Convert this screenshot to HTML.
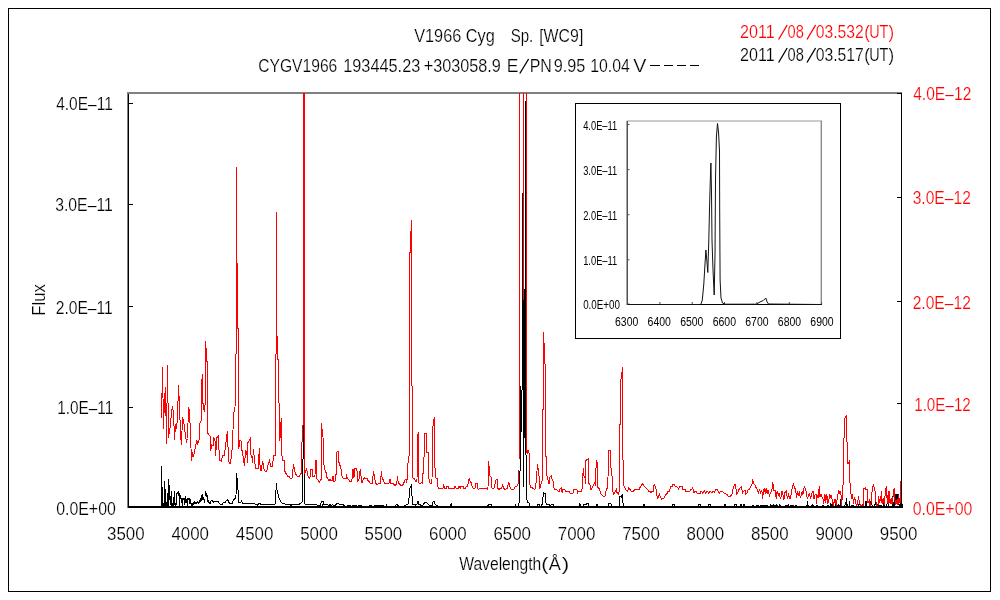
<!DOCTYPE html>
<html><head><meta charset="utf-8"><title>V1966 Cyg</title>
<style>
html,body{margin:0;padding:0;background:#fff;}
body{width:1000px;height:600px;overflow:hidden;font-family:"Liberation Sans",sans-serif;}
svg{display:block;font-family:"Liberation Sans",sans-serif;}
text{filter:url(#idf);font-family:"Liberation Sans",sans-serif;stroke:#fff;stroke-width:0.2px;paint-order:fill stroke;}
.ln{fill:none;stroke-width:1;shape-rendering:crispEdges;}
</style></head><body>
<svg width="1000" height="600" viewBox="0 0 1000 600">
<defs><filter id="idf" x="-5%" y="-20%" width="110%" height="140%" color-interpolation-filters="sRGB"><feOffset dx="0" dy="0"/></filter></defs>
<rect x="0" y="0" width="1000" height="600" fill="#fff"/>
<rect x="8.5" y="8.5" width="982" height="583" fill="none" stroke="#000" stroke-width="1" shape-rendering="crispEdges"/>

<text x="414.19" y="42" font-size="18" fill="#000" textLength="80.62" lengthAdjust="spacingAndGlyphs">V1966 Cyg</text>
<text x="510.69" y="42" font-size="18" fill="#000" textLength="22.62" lengthAdjust="spacingAndGlyphs">Sp.</text>
<text x="539.19" y="42" font-size="18" fill="#000" textLength="44.12" lengthAdjust="spacingAndGlyphs">[WC9]</text>
<text x="258.19" y="72" font-size="18" fill="#000" textLength="79.12" lengthAdjust="spacingAndGlyphs">CYGV1966</text><text x="343.19" y="72" font-size="18" fill="#000" textLength="77.12" lengthAdjust="spacingAndGlyphs">193445.23</text><text x="423.69" y="72" font-size="18" fill="#000" textLength="77.12" lengthAdjust="spacingAndGlyphs">+303058.9</text><text x="506.69" y="72" font-size="18" fill="#000" textLength="11.62" lengthAdjust="spacingAndGlyphs">E</text><line x1="519.8" y1="73.5" x2="528.6" y2="59" stroke="#000" stroke-width="1.35"/><text x="529.69" y="72" font-size="18" fill="#000" textLength="22.12" lengthAdjust="spacingAndGlyphs">PN</text><text x="553.69" y="72" font-size="18" fill="#000" textLength="31.62" lengthAdjust="spacingAndGlyphs">9.95</text><text x="590.19" y="72" font-size="18" fill="#000" textLength="39.62" lengthAdjust="spacingAndGlyphs">10.04</text><text x="633.19" y="72" font-size="18" fill="#000" textLength="13.12" lengthAdjust="spacingAndGlyphs">V</text>
<text x="739.99" y="38" font-size="18" fill="#f00" textLength="34.62" lengthAdjust="spacingAndGlyphs">2011</text>
<line x1="778.6" y1="39.5" x2="787.2" y2="25" stroke="#f00" stroke-width="1.35"/>
<text x="787.49" y="38" font-size="18" fill="#f00" textLength="16.32" lengthAdjust="spacingAndGlyphs">08</text>
<line x1="807" y1="39.5" x2="815.6" y2="25" stroke="#f00" stroke-width="1.35"/>
<text x="815.69" y="38" font-size="18" fill="#f00" textLength="48.12" lengthAdjust="spacingAndGlyphs">03.532</text>
<text x="864.19" y="38" font-size="18" fill="#f00" textLength="5.62" lengthAdjust="spacingAndGlyphs">(</text>
<text x="869.19" y="38" font-size="18" fill="#f00" textLength="19.22" lengthAdjust="spacingAndGlyphs">UT</text>
<text x="888.49" y="38" font-size="18" fill="#f00" textLength="5.62" lengthAdjust="spacingAndGlyphs">)</text>
<text x="739.99" y="61" font-size="18" fill="#000" textLength="34.62" lengthAdjust="spacingAndGlyphs">2011</text>
<line x1="778.6" y1="62.5" x2="787.2" y2="48" stroke="#000" stroke-width="1.35"/>
<text x="787.49" y="61" font-size="18" fill="#000" textLength="16.32" lengthAdjust="spacingAndGlyphs">08</text>
<line x1="807" y1="62.5" x2="815.6" y2="48" stroke="#000" stroke-width="1.35"/>
<text x="815.69" y="61" font-size="18" fill="#000" textLength="48.12" lengthAdjust="spacingAndGlyphs">03.517</text>
<text x="864.19" y="61" font-size="18" fill="#000" textLength="5.62" lengthAdjust="spacingAndGlyphs">(</text>
<text x="869.19" y="61" font-size="18" fill="#000" textLength="19.22" lengthAdjust="spacingAndGlyphs">UT</text>
<text x="888.49" y="61" font-size="18" fill="#000" textLength="5.62" lengthAdjust="spacingAndGlyphs">)</text>
<rect x="650" y="65" width="10" height="1" fill="#000" shape-rendering="crispEdges"/>
<rect x="664" y="65" width="9" height="1" fill="#000" shape-rendering="crispEdges"/>
<rect x="677" y="65" width="9" height="1" fill="#000" shape-rendering="crispEdges"/>
<rect x="690" y="65" width="9" height="1" fill="#000" shape-rendering="crispEdges"/>
<rect x="127" y="92" width="775" height="2" fill="#808080" shape-rendering="crispEdges"/>
<rect x="127" y="92" width="1" height="416" fill="#808080" shape-rendering="crispEdges"/>
<rect x="128" y="94" width="1" height="414" fill="#000" shape-rendering="crispEdges"/>
<rect x="901" y="94" width="1" height="414" fill="#000" shape-rendering="crispEdges"/>
<rect x="128" y="506" width="774" height="2" fill="#000" shape-rendering="crispEdges"/>
<rect x="128" y="103" width="5" height="1" fill="#000" shape-rendering="crispEdges"/>
<text x="56.19" y="110" font-size="18" fill="#000" textLength="56.62" lengthAdjust="spacingAndGlyphs">4.0E&#8211;11</text>
<rect x="128" y="204" width="5" height="1" fill="#000" shape-rendering="crispEdges"/>
<text x="55.19" y="211" font-size="18" fill="#000" textLength="57.62" lengthAdjust="spacingAndGlyphs">3.0E&#8211;11</text>
<rect x="128" y="306" width="5" height="1" fill="#000" shape-rendering="crispEdges"/>
<text x="55.69" y="314" font-size="18" fill="#000" textLength="57.12" lengthAdjust="spacingAndGlyphs">2.0E&#8211;11</text>
<rect x="128" y="407" width="5" height="1" fill="#000" shape-rendering="crispEdges"/>
<text x="57.19" y="414" font-size="18" fill="#000" textLength="56.12" lengthAdjust="spacingAndGlyphs">1.0E&#8211;11</text>
<rect x="128" y="507" width="5" height="1" fill="#000" shape-rendering="crispEdges"/>
<text x="56.19" y="515" font-size="18" fill="#000" textLength="59.62" lengthAdjust="spacingAndGlyphs">0.0E+00</text>
<rect x="897" y="93" width="5" height="1" fill="#000" shape-rendering="crispEdges"/>
<text x="913.19" y="100" font-size="18" fill="#f00" textLength="58.12" lengthAdjust="spacingAndGlyphs">4.0E&#8211;12</text>
<rect x="897" y="197" width="5" height="1" fill="#000" shape-rendering="crispEdges"/>
<text x="912.69" y="204" font-size="18" fill="#f00" textLength="58.12" lengthAdjust="spacingAndGlyphs">3.0E&#8211;12</text>
<rect x="897" y="301" width="5" height="1" fill="#000" shape-rendering="crispEdges"/>
<text x="912.69" y="309" font-size="18" fill="#f00" textLength="58.12" lengthAdjust="spacingAndGlyphs">2.0E&#8211;12</text>
<rect x="897" y="403" width="5" height="1" fill="#000" shape-rendering="crispEdges"/>
<text x="914.19" y="411" font-size="18" fill="#f00" textLength="56.62" lengthAdjust="spacingAndGlyphs">1.0E&#8211;12</text>
<rect x="897" y="507" width="5" height="1" fill="#000" shape-rendering="crispEdges"/>
<text x="912.69" y="515" font-size="18" fill="#f00" textLength="59.62" lengthAdjust="spacingAndGlyphs">0.0E+00</text>
<rect x="128" y="504" width="1" height="4" fill="#000" shape-rendering="crispEdges"/>
<text x="106.99" y="540" font-size="18" fill="#000" textLength="37.62" lengthAdjust="spacingAndGlyphs">3500</text>
<rect x="192" y="504" width="1" height="4" fill="#000" shape-rendering="crispEdges"/>
<text x="171.39" y="540" font-size="18" fill="#000" textLength="37.62" lengthAdjust="spacingAndGlyphs">4000</text>
<rect x="257" y="504" width="1" height="4" fill="#000" shape-rendering="crispEdges"/>
<text x="235.79" y="540" font-size="18" fill="#000" textLength="37.62" lengthAdjust="spacingAndGlyphs">4500</text>
<rect x="322" y="504" width="1" height="4" fill="#000" shape-rendering="crispEdges"/>
<text x="300.19" y="540" font-size="18" fill="#000" textLength="37.62" lengthAdjust="spacingAndGlyphs">5000</text>
<rect x="386" y="504" width="1" height="4" fill="#000" shape-rendering="crispEdges"/>
<text x="364.59" y="540" font-size="18" fill="#000" textLength="37.62" lengthAdjust="spacingAndGlyphs">5500</text>
<rect x="450" y="504" width="1" height="4" fill="#000" shape-rendering="crispEdges"/>
<text x="428.99" y="540" font-size="18" fill="#000" textLength="37.62" lengthAdjust="spacingAndGlyphs">6000</text>
<rect x="515" y="504" width="1" height="4" fill="#000" shape-rendering="crispEdges"/>
<text x="493.39" y="540" font-size="18" fill="#000" textLength="37.62" lengthAdjust="spacingAndGlyphs">6500</text>
<rect x="580" y="504" width="1" height="4" fill="#000" shape-rendering="crispEdges"/>
<text x="557.79" y="540" font-size="18" fill="#000" textLength="37.62" lengthAdjust="spacingAndGlyphs">7000</text>
<rect x="644" y="504" width="1" height="4" fill="#000" shape-rendering="crispEdges"/>
<text x="622.19" y="540" font-size="18" fill="#000" textLength="37.62" lengthAdjust="spacingAndGlyphs">7500</text>
<rect x="708" y="504" width="1" height="4" fill="#000" shape-rendering="crispEdges"/>
<text x="686.59" y="540" font-size="18" fill="#000" textLength="37.62" lengthAdjust="spacingAndGlyphs">8000</text>
<rect x="773" y="504" width="1" height="4" fill="#000" shape-rendering="crispEdges"/>
<text x="750.99" y="540" font-size="18" fill="#000" textLength="37.62" lengthAdjust="spacingAndGlyphs">8500</text>
<rect x="838" y="504" width="1" height="4" fill="#000" shape-rendering="crispEdges"/>
<text x="815.39" y="540" font-size="18" fill="#000" textLength="37.62" lengthAdjust="spacingAndGlyphs">9000</text>
<rect x="902" y="504" width="1" height="4" fill="#000" shape-rendering="crispEdges"/>
<text x="879.79" y="540" font-size="18" fill="#000" textLength="37.62" lengthAdjust="spacingAndGlyphs">9500</text>
<g transform="translate(45,315) rotate(-90)"><text x="-0.81" y="0" font-size="18" fill="#000" textLength="31.62" lengthAdjust="spacingAndGlyphs">Flux</text></g>
<text x="459.19" y="570" font-size="18" fill="#000" textLength="82.12" lengthAdjust="spacingAndGlyphs">Wavelength</text>
<text x="541.19" y="570" font-size="18" fill="#000" textLength="7.12" lengthAdjust="spacingAndGlyphs">(</text>
<text x="548.69" y="570" font-size="18" fill="#000" textLength="12.12" lengthAdjust="spacingAndGlyphs">&#197;</text>
<text x="561.69" y="570" font-size="18" fill="#000" textLength="7.62" lengthAdjust="spacingAndGlyphs">)</text>
<g clip-path="url(#pc)"><defs><clipPath id="pc"><rect x="128" y="93" width="775" height="415"/></clipPath></defs><polyline class="ln" stroke="#000" points="210.5,502.5 211.2,500 212.5,501 213.7,502.5 215,501 217.5,501 218.7,502.5 220,504 221.9,505 223,503 225,502.5 226.2,501 227.5,499.4 228.7,502 230,503.7 231.9,503.7 233,501 234,499.4 235,498.7 236,495 236.6,473 237.5,483.7 238,490 239,502.5 240.6,503 241.5,501 242.5,503 245,504 247,503.7 253.7,503.7 255,504 258,504.4 258.7,503 260.6,503 261,504.4 275,504.4 275.6,497.5 276.4,483 277,490 278,493.7 278.7,497.5 280,500 281.2,502.5 283.7,503.7 287.5,504.4 290.5,504.4 291,506 292,504.4 297,505 298,504.4 300.6,503.7 302,502 302.7,497.5 303.3,425 304.2,425 304.7,503.7 306,504.4 316,504.4 317.5,505.6 320.6,505 321.5,501 323.5,501 323.7,504.4 327.5,504.7 328.7,505.6 330,504.4 331.2,505.6 332.5,504.4 333.7,505.6 335.6,505 336.9,503.7 338.7,503.7 340,504.4 343,504.4 344,505.6 345.0,506 347.0,506 349.5,505.4 350.7,506 351.9,506 354.4,505.4 356.9,506 358.4,506 359.9,505.4 361.9,506 364.4,506 365.6,506 368.1,506 369.6,506 370.8,505.4 372.3,506 373.8,506 375.8,505.4 377.3,506 378.8,505.4 380.8,506 382.8,505.4 384.3,506 386.3,506 388.3,506 389.5,506 390.7,506 392.7,506 395.2,506 396.7,504.6 399.2,506 400.4,506 401.6,506 404.1,506 406.9,504.4 408,504.4 408.7,502.5 409.7,488.7 411.2,486 411.9,496 412.7,497 413,505 414.4,504.4 415.6,505 417.2,503.7 418,501 419,504.4 420.6,505 423,505 424.4,503 426.2,502 427.7,503.7 428.7,504.4 429.4,505.6 432,505.6 432.5,503 434,501 435,503.7 436.2,505.6 437.5,506 451,506 451.5,504.4 452,506 487.8,506 488.5,504.4 491.2,504.4 491.6,506 515,506 515.4,504.4 515.8,506 518.8,506 519.2,500 519.6,485 520.02,470 520.5,386.5 521.0,410 521.3,432 522.01,400 522.3,193.5 523.0,274 523.6,487 524.0,440 525.0,300 525.3,101.5 525.99,453 526.5,497 527.5,502 529,503 529.8,506 537,506 537.5,504.4 539.5,504.4 540,506 541.8,506 542.5,501 543.5,493 545.2,493.7 545.6,502.5 547,504.4 549.4,504.4 550,505.6 551.8,504.4 553,504.4 553.7,506 579,506 579.5,504.4 580,506 583,506 583.5,504.4 586,504.4 587,503 588.5,503 589,506 596.5,506 597,503.7 597.5,506 608,506 608.5,503.7 611,503.7 611.5,506 619,506 619.5,503.7 620,496 621.2,497 622.2,494.4 622.7,503 623.5,503.7 623.8,506 625.0,506 626.0,506 627.0,506 628.0,506 629.0,506 630.0,506 631.0,506 632.0,506 633.0,506 634.0,506 635.0,506 636.0,506 637.0,506 638.0,506 639.0,506 640.0,506 641.0,506 642.0,506 643.0,506 644.0,504.4 645.0,506 646.0,506 647.0,506 648.0,506 649.0,506 650.0,506 651.0,506 652.0,506 653.0,506 654.0,506 655.0,506 656.0,506 657.0,506 658.0,506 659.0,506 660.0,506 661.0,506 662.0,506 663.0,506 664.0,506 665.0,506 666.0,506 667.0,506 668.0,506 669.0,506 670.0,506 671.0,506 672.0,506 673.0,504.4 674.0,504.4 675.0,506 676.0,506 677.0,506 678.0,506 679.0,506 680.0,506 681.0,506 682.0,506 683.0,506 684.0,506 685.0,506 686.0,506 687.0,506 688.0,506 689.0,506 690.0,506 691.0,506 692.0,506 693.0,506 694.0,506 695.0,506 696.0,506 697.0,506 698.0,506 699.0,504.4 700.0,504.4 701.0,506 702.0,506 703.0,506 704.0,506 705.0,506 706.0,506 707.0,506 708.0,506 709.0,504.4 710.0,504.4 711.0,506 712.0,506 713.0,506 714.0,506 715.0,506 716.0,506 717.0,506 718.0,506 719.0,506 720.0,506 721.0,506 722.0,506 723.0,506 724.0,506 725.0,504.4 726.0,506 727.0,506 728.0,506 729.0,506 730.0,506 731.0,506 732.0,506 733.0,506 734.0,506 735.0,504.4 736.0,504.4 737.0,506 738.0,506 739.0,506 740.0,506 741.0,504.4 742.0,506 743.0,506 744.0,504.4 745.0,506 746.0,506 747.0,506 748.0,506 749.0,506 750.0,506 751.0,506 752.0,506 752.7,505.5 753.7,506 754.7,506 755.7,506 756.7,505.7 757.4,505.4 758.4,506 759.1,506 760.1,506 760.8,505.7 761.8,505.0 762.8,505.5 763.8,505.5 764.5,505.9 765.2,506 766.0,505.5 767.0,505.5 767.8,506 768.8,506 769.8,506 770.6,504.9 771.4,505.2 772.1,505.6 773.1,505.3 774.1,506 775.1,505.3 775.9,506 776.7,504.7 777.4,506 778.1,506 778.8,506 779.6,504.8 780.3,506 781.0,506 782.0,506 782.8,506 783.5,506 784.2,506 785.2,506 785.9,505.6 786.7,506 787.4,505.5 788.2,504.7 789.0,506 790.0,506 791.0,505.8 792.0,506 793.0,505.6 793.8,506 794.6,506 795.6,506 796.4,505.5 797.2,506 798.2,506 799.2,506 800.0,506 800.8,506 801.6,506.0 802.3,506.0 803.1,506 803.9,506 804.9,506 805.7,506 806.5,505.5 807.3,506 807.5,501 808.0,504.8 808.7,506 809.4,506 810.2,506 810.9,506 811.9,505.8 812.7,504.8 813.4,506 814.1,506 815.1,506 816.1,506 816.8,505.9 817.5,506 818.5,506 819.3,506 820.3,506 821.3,506 822.0,506 823.0,505.4 823.8,506 824.6,506 825.4,506 826.2,506 826.9,506 827.9,505.0 828.9,506 829.9,506 830.9,503.8 831.9,506 832.6,504.0 833.4,506 834.1,506 835.1,506 835.8,503.8 836.8,506 837.6,505.6 838.4,506 839.1,506 839.9,506 840.6,498.7 840.9,506 841.6,506 842.6,506 843.3,506 844.0,506 844.7,506 845.5,503.7 846.2,506 846.4,498 847.2,505.9 848.0,506 849.0,506 849.5,501 849.8,506 850.6,506.0 851.3,505.9 852.0,506 852.7,505.7 853.7,506 854.4,506 855.2,506 856.0,506 856.8,506 857.6,506 858.3,506 859.3,503.2 860.3,506 861.1,506 862.1,504.6 862.8,506 863.6,506 864.6,506 865.6,506 866,501 866.6,506 867.3,506 868.3,506 869.3,506 870,502 870.1,506 870.8,501.9 871.6,503.5 872.4,506 873.4,506 874.4,506 875.4,502.8 876.4,506 877.4,506 878.4,503.6 879.1,505.8 879.8,506 880.8,505.1 881.5,506 882.2,506 882.9,506 883.9,502.8 884.6,506 885.6,506 886.6,506 887.6,500.5 888.3,506 889.3,506 890.0,506 890.7,506 891.5,506 892.3,506 892.5,496 893.3,506 894.1,506 894.8,506 895,494 895.5,503.2 896.5,503.1 897,494 897.5,501.2 898,494 898.5,504.9 899.3,504.9 900.0,506 900.5,496 900.8,502.1"/><path fill="#000" shape-rendering="crispEdges" d="M161 466h1v41h-1zM162 487h1v20h-1zM163 503h1v4h-1zM164 481h1v26h-1zM165 489h1v17h-1zM166 502h1v5h-1zM167 493h1v14h-1zM168 479h1v28h-1zM169 485h1v15h-1zM170 496h1v9h-1zM171 491h1v16h-1zM172 503h1v4h-1zM173 497h1v9h-1zM174 491h1v14h-1zM175 503h1v3h-1zM176 493h1v12h-1zM177 492h1v2h-1zM178 491h1v5h-1zM179 493h1v13h-1zM180 495h1v4h-1zM181 498h1v5h-1zM182 498h1v8h-1zM183 498h1v2h-1zM184 498h1v7h-1zM185 496h1v7h-1zM186 499h1v4h-1zM187 498h1v8h-1zM188 498h1v2h-1zM189 498h1v6h-1zM190 499h1v5h-1zM191 503h1v4h-1zM192 503h1v4h-1zM193 502h1v3h-1zM194 501h1v3h-1zM195 502h1v2h-1zM196 502h1v2h-1zM197 501h1v2h-1zM198 502h1v2h-1zM199 500h1v3h-1zM200 498h1v4h-1zM201 495h1v6h-1zM202 494h1v6h-1zM203 497h1v3h-1zM204 499h1v4h-1zM205 491h1v5h-1zM206 493h1v4h-1zM207 495h1v7h-1zM208 500h1v3h-1zM209 502h1v2h-1zM210 501h1v3h-1z"/><polyline class="ln" stroke="#f00" points="161.5,418.5 162.0,393.5 162.5,367.5 163.5,428.5 164.5,398.5 165.5,387.5 166.5,443.5 167.5,365.5 168.5,437.5 169.5,430.5 170.5,425.5 171.5,410.5 172.5,407.5 173.5,412.5 174.5,439.5 175.5,424.5 176.5,428.5 177.5,418.5 178.5,385.5 179.5,405.5 180.5,434.5 181.5,444.5 182.5,417.5 183.5,421.5 184.5,426.5 185.5,436.5 186.5,441.5 187.5,438.5 188.5,407.5 189.5,410.5 190.5,435.5 191.5,461.0 192.5,452.5 193.7,456 194.7,451 196.9,440 197.5,445 199.4,438.7 199.7,423.7 201.2,421 201.5,384.5 202.5,374.5 203.1,408.7 204.4,411 205.02,405 205.5,341.5 206.01,348.5 207.01,361.5 207.5,432.5 208.7,435 210,436 210.6,451 211.9,445 213,446 213.7,437.5 215,441 215.6,456 216.9,437.5 218.5,436 219.4,460.6 221.2,461 222.5,456 224.4,455 225.6,445 226.2,440 227.5,431 227.9,441 228.3,461 230,464 231.5,456 232.5,445 233.5,415 235,407.5 236.01,359.5 236.5,167.5 237.01,263.5 238.01,328.5 238.8,448.7 240,440 241,440.6 241.9,450 242.5,452.5 244.4,466 245.6,451 246.9,452.5 247.5,463 248,442.5 250.6,438 251,455 252,457.5 252.5,462.5 253.5,448.7 254.4,458.7 255.6,468.7 258,469 259.4,448 260,465 261,471 262.7,461 263.7,468.7 265,471 266.9,471 268,465 269.4,460.6 270.6,466 272.5,466 273.5,456 275.02,455.6 276.01,357.5 276.5,212.5 277.01,336.5 278.01,359.5 279.4,420 279.7,441 280.6,432.5 281.2,418 281.7,455 283,460.5 284.4,461 285,471.5 286.2,473.7 287.5,476 289.4,477 290.6,478.7 292.2,478 292.5,473.7 293.5,463.7 294.4,470 295.6,473.7 296.9,476 299.4,476 300.6,473.7 301.5,473.7 301.8,442 302.9,441 303.2,401 303.5,60 304.5,60 304.9,473.7 306.2,469 307,471 308,476 309.4,478 310,477 310.4,469 312.5,469 312.7,476 315,476 315.2,460 316.6,461 316.9,478.7 318,480 319.4,482 320.6,480.6 321.3,478.7 321.5,423 322,429 323,437 323.7,465 324.7,466 325.2,473 326.5,472.5 327,477.5 328,478.7 329,481 330,479 331.2,481 332.2,480.6 332.7,476 333.5,476 333.7,481 335,481 335.6,475 336.2,474.4 336.5,452.5 338.7,451 339,462.5 340.2,466 341.2,470 341.9,476 343,478 344.4,478.5 346,478.7 346.5,474.4 347.5,478.7 348.7,479.4 349.7,481 351.9,481 352.5,469.4 353.5,470 354,477.5 355,468.5 356.9,468.5 357.5,481 358.7,480.6 359.4,477.5 360.2,469.4 361,476 361.9,483 363,480 364.4,478 365.6,478.7 366.9,478 368,480.6 369.4,482 370.6,483.7 372.5,483.7 372.9,477.5 373.5,471 374.4,477 375.6,483.7 377.5,484.4 379.4,483 380.6,483 381,476 381.5,471 382.2,478.7 383.5,480 384.4,483.7 386.2,483 388,483.7 389,483.7 389.4,480 390.2,479.4 390.6,483.7 393.7,484 395.2,485.6 396.5,483.7 397,481 397.5,476 398,481 399.4,484.4 400.6,485 401.2,486 402.5,485 403.7,483.7 404.7,480 406.2,479.4 406.9,483 407.5,468.7 408.5,457 409.02,456 409.98,252.5 410.02,252.5 410.98,231.5 411.02,231.5 411.3,220.5 411.98,380 412.5,477.5 414.4,478.7 415.6,481 417,481 417.3,435 418.5,433 418.8,483 420.6,483.7 421.5,482.5 422.7,483.7 423.5,458 424.3,456 424.6,433 426.2,433 426.9,452.5 428.5,453 428.7,477.5 430,483 431.2,483 432,481 432.3,431 433.5,422 434.4,417 434.7,468 435.6,468.7 436,478 437.2,478.7 437.7,486 438.5,488 443,488 443.5,484.4 444.4,488 446.2,488 446.5,486 448,486 448.7,488 454.4,488 455,486 456,488 458.7,488 459,486 460.2,488 461.2,486 463,486 463.7,488 465.8,488 466.2,486 467.7,486 468.5,481 469.6,478 470.2,482.5 471.5,483 472.2,487.5 473,488 475,488 475.4,483 477.2,483 477.5,488 478.5,489.4 480,488.5 486.2,488.5 487.2,489.4 488,487.5 488.4,461 489.4,468.7 490,476 491.2,477.5 491.6,488 493.7,488.5 494.7,486 495.4,480.6 497.2,479.4 497.7,488 498.7,489.4 500.6,488.5 501.9,488 502.5,484.4 503.5,488 505,489.4 507.5,488 508.5,483 509.4,483.7 510,487 511.2,489.4 513.7,489.4 515,487 516.9,486 518,483.7 519,482.5 519.5,60 523.2,60 523.5,300 523.8,60 526.2,60 526.5,452.5 527.2,453 528,450 529.4,453.7 529.7,483.7 530.6,487 532.5,488 534.4,489.4 535.6,488 536.5,477.5 537.5,463.7 538.5,472.5 539,476 539.6,488 540.6,487.5 541.2,483 542.2,481 542.98,422 543.3,332.5 544.01,343.5 545.01,363.7 545.7,456 546.5,457 546.9,476 547.7,477.5 548.5,483 549.3,483 549.7,477 551.2,476 552.2,480 553,481 554,488 555,489.4 556.9,490 558,491 559.3,491 560,488.7 561.5,488 562.2,493 563,489.4 564.3,489.4 565.6,491 568.7,491 570,493 573,493 574,489.4 576.9,489.4 577.5,493 578.7,491 581.9,491 582.5,480 583.4,468 584,476 585,477.5 585.6,483.7 586,460.6 587.2,459.4 588.5,458.5 588.7,483 590,485 591,489.4 592.2,488 593.7,484.4 594.7,483 595.6,485.6 596.2,460 597.2,462.5 597.7,487.5 599.4,488.7 600.6,493.7 601.9,495 603.5,496.5 605,496 606,491 607.2,488 608,477.5 608.5,450 610.6,450 611,468 611.9,469.4 612.2,488 613.5,494.4 614.4,493 615.6,491 616.5,489.4 617.2,493.7 618.7,494.4 619.4,490 620.0,425 620.99,379.5 621.99,372.5 622.3,367.5 622.8,460 623.5,460.6 623.7,485.6 625,488 626.2,490 627.5,491 628.7,488 630,489.4 631.2,491 633.7,491 635,489.4 636.2,489.4 639.4,489.4 640.2,487 641.2,485.6 642.5,483.7 644,486 645.6,487.5 647.5,489.4 648.5,491 650,491 651,493 651.9,491 653.5,491 653.7,487 654.4,483.7 655.6,488 656.5,490 657.2,498.7 658,497.5 659.4,494.4 660.6,497 661.5,499.4 663,498.7 664.4,497.5 665.6,494.4 667.2,493.7 667.7,491 669.4,491 670,489.4 670.6,487 672.5,486 673,484.4 674.4,484.4 675,486 676.9,487 678,488 678.7,489.4 679.4,487 682.2,486.5 682.7,489.4 685,489.4 685.6,491 690,491 690.2,489.4 691.9,489.4 692.5,488 693.5,489.4 694,493 695,491 696.2,491 696.9,493 700,493.5 701.2,491 702.5,493 704.4,491 705.6,493 706.9,491 708.7,493 710,491 711.9,493 713,491 714.4,492 715.6,490 716.9,489.4 718,491 719.4,493 720.6,491 722.5,491 723.7,493 725.6,493.7 727.5,495 728,496 730.6,496 731.9,494.4 732.7,491 733.5,487 734.4,485 735.4,484.4 736,489.4 736.5,494.4 737.5,493 738.7,490 740,488 741.2,487 742.2,491 742.7,493 743.7,491 745,490 745.6,494.4 746.9,493 748,490 749.4,489.4 750.6,487 751.9,484.4 752.7,479.4 753.7,483.7 755,484.8 756.2,488 757.5,489.4 758.5,493.7 759.4,488.7 760.6,493 761.9,490 762.5,498.7 763.5,491 764.4,488 765.2,493.7 766.2,488 767.2,493.7 768,490 769.4,496 770.6,492.5 771.9,490 772.5,483 773.5,484.4 774,491 775,490 776.2,498.7 777.2,491 778.5,495 779.4,493.7 780.6,499.4 781.9,491 783,495 784,499.4 785,492.5 786.2,491 787.5,498.7 788.7,494.4 790,499.4 791.2,493.7 792.2,487.5 793.5,483 794.4,487.5 795.6,489.4 796.5,498 797.5,492.5 798.7,495.6 799.4,491 800.2,497.5 801.5,495 802.2,491 803,494.4 804.4,486 805.6,489.4 806.5,493.7 807.5,499.4 808.5,495 809.4,493.7 810.6,498.7 811.9,493 813,491 814,499.4 815,495 816,493.7 816.4,504.4 817.2,495 818,498 819.4,486 820,497 821,493.7 821.9,497 823,498.7 823.7,503.7 825,494.4 825.6,502.5 826.9,494.4 827.5,503.7 828.7,501 829.7,494.4 830.6,497 831.5,495.6 832.7,502.5 833.5,506 834.4,500 835.6,499.4 836.2,506 837.2,498 838.5,491 839.4,492.5 840,491 841,495 841.5,506 842.5,495 843.3,479 844.3,421 845.2,417.4 846.4,415 847,442 848,464 849.4,461.5 849.8,483 850.6,483.7 851.2,498.7 852.5,494.4 853.5,503.7 854.4,498 855.6,501 856.2,506 857.5,503.7 858.5,496 859.4,502.5 860.6,505 862,506 863.5,505 864,488.7 865.2,488 866,490 867.2,489.4 868,502.5 869.4,500 870,506 871.2,502 872.2,489.4 873.5,484.4 874.7,490 875.6,493 876.2,506 878,505 878.7,496 879.4,503 880,501 880.5,496 881.2,503 881.6,491 882.3,504 883.5,498 884.2,505 885.5,491 886.5,486 887.2,503 887.8,495 888.4,504 889,491 889.7,503 890.4,499 891,504 891.7,498 892.4,504 893.5,491 894.5,488 895,500 895.6,505 896.3,503 897,500 897.7,505 898.2,495 898.9,504 899.6,498 900.2,503 900.5,481 901,491"/></g>
<rect x="575.5" y="103.5" width="265" height="235" fill="#fff" stroke="#000" stroke-width="1" shape-rendering="crispEdges"/>
<rect x="627" y="120.2" width="195" height="1.6" fill="#c0c0c0"/>
<rect x="820.6" y="121" width="1.4" height="184" fill="#8a8a8a"/>
<rect x="626.5" y="121" width="1.5" height="184" fill="#505050"/>
<rect x="627" y="304" width="195" height="1" fill="#000" shape-rendering="crispEdges"/>
<rect x="627" y="124.0" width="2.5" height="1" fill="#505050"/>
<text x="583.16" y="129.8" font-size="12" fill="#000" textLength="34.08" lengthAdjust="spacingAndGlyphs" style="stroke:none">4.0E&#8211;11</text>
<rect x="627" y="169.1" width="2.5" height="1" fill="#505050"/>
<text x="583.16" y="174.6" font-size="12" fill="#000" textLength="34.08" lengthAdjust="spacingAndGlyphs" style="stroke:none">3.0E&#8211;11</text>
<rect x="627" y="214.2" width="2.5" height="1" fill="#505050"/>
<text x="583.16" y="219.7" font-size="12" fill="#000" textLength="34.08" lengthAdjust="spacingAndGlyphs" style="stroke:none">2.0E&#8211;11</text>
<rect x="627" y="259.3" width="2.5" height="1" fill="#505050"/>
<text x="583.16" y="264.8" font-size="12" fill="#000" textLength="34.08" lengthAdjust="spacingAndGlyphs" style="stroke:none">1.0E&#8211;11</text>
<rect x="627" y="303.5" width="2.5" height="1" fill="#505050"/>
<text x="583.16" y="309.4" font-size="12" fill="#000" textLength="36.88" lengthAdjust="spacingAndGlyphs" style="stroke:none">0.0E+00</text>
<rect x="627.0" y="302" width="1" height="2.5" fill="#505050"/>
<text x="615.06" y="325.7" font-size="12" fill="#000" textLength="23.28" lengthAdjust="spacingAndGlyphs" style="stroke:none">6300</text>
<rect x="659.4" y="302" width="1" height="2.5" fill="#505050"/>
<text x="647.56" y="325.7" font-size="12" fill="#000" textLength="23.38" lengthAdjust="spacingAndGlyphs" style="stroke:none">6400</text>
<rect x="691.7" y="302" width="1" height="2.5" fill="#505050"/>
<text x="680.16" y="325.7" font-size="12" fill="#000" textLength="23.28" lengthAdjust="spacingAndGlyphs" style="stroke:none">6500</text>
<rect x="724.0" y="302" width="1" height="2.5" fill="#505050"/>
<text x="712.66" y="325.7" font-size="12" fill="#000" textLength="23.38" lengthAdjust="spacingAndGlyphs" style="stroke:none">6600</text>
<rect x="756.4" y="302" width="1" height="2.5" fill="#505050"/>
<text x="745.26" y="325.7" font-size="12" fill="#000" textLength="23.28" lengthAdjust="spacingAndGlyphs" style="stroke:none">6700</text>
<rect x="788.8" y="302" width="1" height="2.5" fill="#505050"/>
<text x="777.86" y="325.7" font-size="12" fill="#000" textLength="23.28" lengthAdjust="spacingAndGlyphs" style="stroke:none">6800</text>
<rect x="821.1" y="302" width="1" height="2.5" fill="#505050"/>
<text x="810.36" y="325.7" font-size="12" fill="#000" textLength="23.28" lengthAdjust="spacingAndGlyphs" style="stroke:none">6900</text>
<polyline fill="none" stroke="#111" stroke-width="1" stroke-linejoin="miter" stroke-miterlimit="4" points="628,304.5 700.8,304.5 702.3,300 703.8,284 705,264 705.9,250 706.8,260 707.8,272.5 708.8,240 709.6,205 710.3,180 710.9,163 711.5,193 712,240 713,270 714.2,295 715.0,255 715.5,180 716.4,137 717.5,123.5 718.6,133 719.5,151 719.7,210 720.1,280 721,298 722.5,303 725,304.2 756.7,304.2 759,302.5 761,301.5 763.3,300.5 765.8,298 767,301.7 768.5,304 821,304.5"/>
</svg></body></html>
